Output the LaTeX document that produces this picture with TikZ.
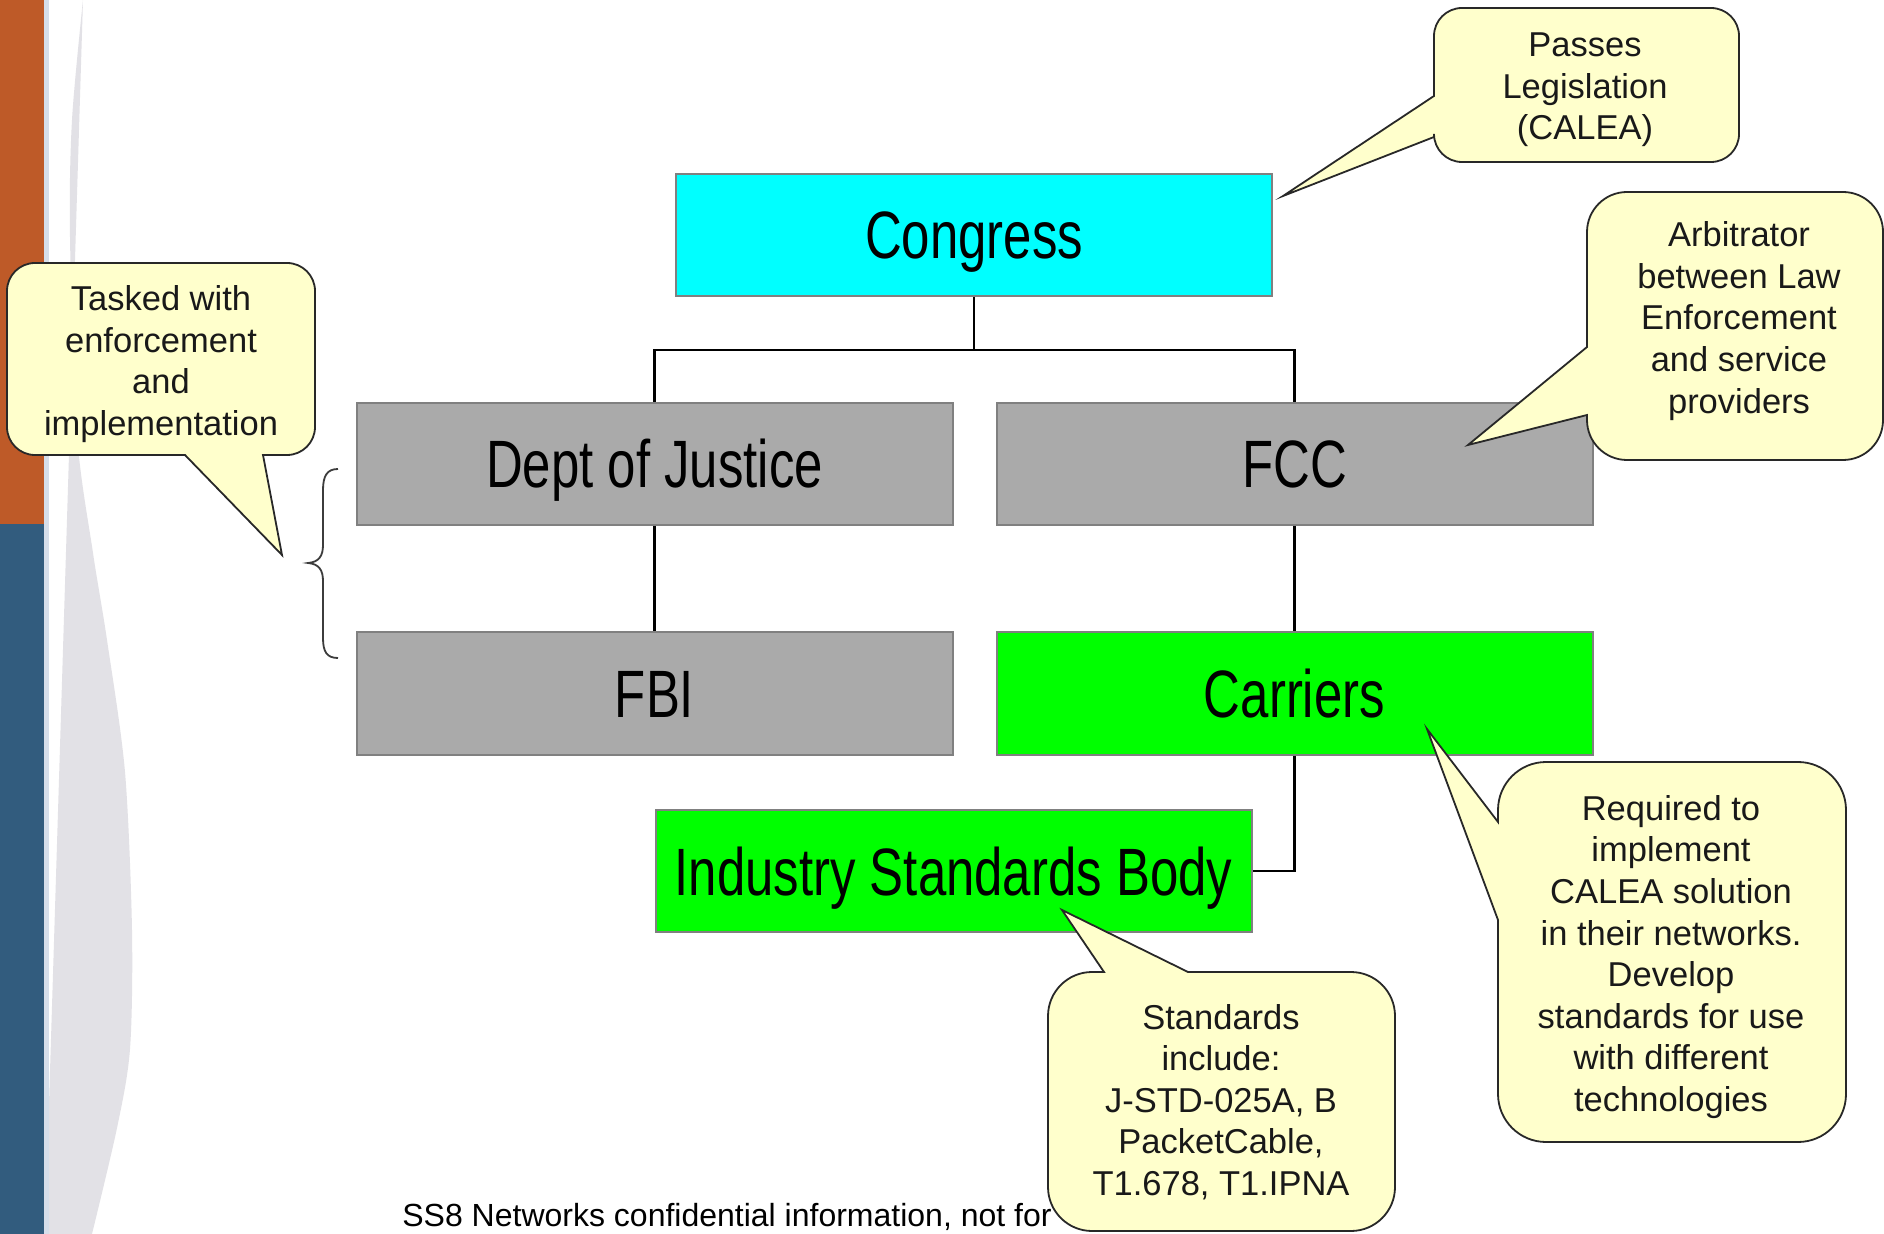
\documentclass[tikz,border=0pt]{standalone}
\usepackage{fontspec}
\setmainfont{Liberation Sans}
\newfontfamily\boxfont[FakeStretch=0.76]{Liberation Sans}
\definecolor{cyanbox}{RGB}{0,255,255}
\definecolor{greenbox}{RGB}{0,255,0}
\definecolor{graybox}{RGB}{170,170,170}
\definecolor{boxline}{RGB}{128,128,128}
\definecolor{notefill}{RGB}{255,255,204}
\definecolor{noteline}{RGB}{40,40,40}
\definecolor{orangebar}{RGB}{190,90,40}
\definecolor{bluebar}{RGB}{50,92,126}
\definecolor{swoosh}{RGB}{226,225,230}
\definecolor{stripe}{RGB}{214,222,234}
\begin{document}
\begin{tikzpicture}[x=0.5pt,y=-0.5pt,
  orgbox/.style={draw=boxline, line width=1pt, minimum width=298pt, minimum height=61pt,
    inner sep=0pt, text height=24pt, text depth=0pt, font=\boxfont\fontsize{33.5}{40}\selectfont},
  conn/.style={line width=1.4pt, black},
  callout/.style={draw=noteline, line width=0.9pt, fill=notefill},
  ctext/.style={align=center, inner sep=0pt, font=\fontsize{17.25}{20.8}\selectfont, text={rgb,255:red,25;green,25;blue,25}}]
\useasboundingbox (0,0) rectangle (1884,1234);
\fill[white] (0,0) rectangle (1884,1234);
% left decoration
\fill[swoosh] (45,0) -- (83,0)
  plot[smooth] coordinates {(83,0) (72,120) (70,237) (77,435) (93,553) (107,640) (125,772) (132,930) (130,1049) (117,1128) (92,1234)}
  -- (45,1234) -- cycle;
\fill[stripe] (44,0) rectangle (49,1234);
\fill[orangebar] (0,0) rectangle (44,524);
\fill[bluebar] (0,524) rectangle (44,1234);
% footer
\node[anchor=west, inner sep=0pt, font=\fontsize{16}{19}\selectfont] (foot) at (402,1217)
  {SS8 Networks confidential information, not for};
% boxes
\node[orgbox, fill=cyanbox] (congress) at (974,235) {Congress};
\node[orgbox, fill=graybox] (doj) at (654.5,464) {Dept of Justice};
\node[orgbox, fill=graybox] (fcc) at (1294.5,464) {FCC};
\node[orgbox, fill=graybox] (fbi) at (654.5,693.5) {FBI};
\node[orgbox, fill=greenbox] (carriers) at (1294.5,693.5) {Carriers};
\node[orgbox, fill=greenbox] (isb) at (953.5,871) {Industry Standards Body};
% connectors
\coordinate (j) at (974,350);
\draw[conn] (congress.south) -- (j);
\draw[conn] (doj.north) |- (j) -| (fcc.north);
\draw[conn] (doj.south) -- (fbi.north);
\draw[conn] (fcc.south) -- (carriers.north);
\draw[conn] (carriers.south) |- (isb.east);
% brace
\draw[line width=0.9pt, draw={rgb,255:red,60;green,60;blue,60}]
  (338,469) .. controls (327,469) and (323,476) .. (323,490) -- (323,545)
  .. controls (323,556) and (319,562) .. (308,563)
  .. controls (319,564) and (323,570) .. (323,581) -- (323,638)
  .. controls (323,652) and (327,658) .. (338,658);
% callout 1
\coordinate (tip1) at (282,555);
\draw[callout] (263,455) [rounded corners=14pt] -- (315,455) -- (315,263) -- (7,263) -- (7,455)
  [sharp corners] -- (185,455) -- (tip1) -- cycle;
\node[ctext] (t1) at (161,364) {Tasked with\\enforcement\\and\\implementation};
% callout 2
\coordinate (tip2) at (1283,196);
\draw[callout] (1434,96) [rounded corners=14pt] -- (1434,8) -- (1739,8) -- (1739,162) -- (1434,162)
  [sharp corners] -- (1434,137) -- (tip2) -- cycle;
\node[ctext] (t2) at (1585,90) {Passes\\Legislation\\(CALEA)};
% callout 3
\coordinate (tip3) at (1468,445);
\draw[callout] (1587,347) [rounded corners=20pt] -- (1587,192) -- (1883,192) -- (1883,460) -- (1587,460)
  [sharp corners] -- (1587,415) -- (tip3) -- cycle;
\node[ctext] (t3) at (1739,321) {Arbitrator\\between Law\\Enforcement\\and service\\providers};
% callout 4
\coordinate (tip4) at (1427,729);
\draw[callout] (1498,920) [rounded corners=24pt] -- (1498,1142) -- (1846,1142) -- (1846,762) -- (1498,762)
  [sharp corners] -- (1498,822) -- (tip4) -- cycle;
\node[ctext] (t4) at (1671,957) {Required to\\implement\\CALEA solution\\in their networks.\\Develop\\standards for use\\with different\\technologies};
% callout 5
\coordinate (tip5) at (1062,910);
\draw[callout] (1188,972) [rounded corners=22pt] -- (1395,972) -- (1395,1231) -- (1048,1231) -- (1048,972)
  [sharp corners] -- (1104,972) -- (tip5) -- cycle;
\node[ctext] (t5) at (1221,1102) {Standards\\include:\\J-STD-025A, B\\PacketCable,\\T1.678, T1.IPNA};
\end{tikzpicture}
\end{document}
